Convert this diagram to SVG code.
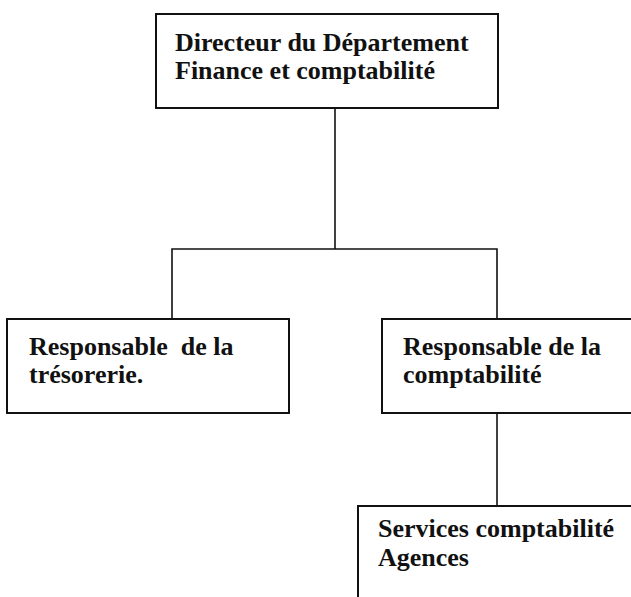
<svg xmlns="http://www.w3.org/2000/svg" width="631" height="597" viewBox="0 0 631 597">
<style>
.box{fill:#fff;stroke:#111;stroke-width:2}
.conn{fill:none;stroke:#111;stroke-width:1.6}
.t{font-family:"Liberation Serif","Times New Roman",serif;font-weight:bold;font-size:26px;fill:#111;white-space:pre}
</style>
<rect width="631" height="597" fill="#fff"/>
<g id="connectors">
<path class="conn" d="M335 108 V249"/>
<path class="conn" d="M172 319 V249 H497 V319"/>
<path class="conn" d="M497 413 V506"/>
</g>
<g id="directeur">
<rect class="box" x="156" y="14" width="342" height="94"/>
<text class="t" x="175" y="51">Directeur du Département</text>
<text class="t" x="175" y="79">Finance et comptabilité</text>
</g>
<g id="tresorerie">
<rect class="box" x="7" y="319" width="282" height="94"/>
<text class="t" x="29" y="355">Responsable  de la</text>
<text class="t" x="29" y="383">trésorerie.</text>
</g>
<g id="comptabilite">
<rect class="box" x="382" y="319" width="260" height="94"/>
<text class="t" x="403" y="355">Responsable de la</text>
<text class="t" x="403" y="383">comptabilité</text>
</g>
<g id="services">
<rect class="box" x="358" y="506" width="290" height="110"/>
<text class="t" x="378" y="537">Services comptabilité</text>
<text class="t" x="378" y="566">Agences</text>
</g>
</svg>
